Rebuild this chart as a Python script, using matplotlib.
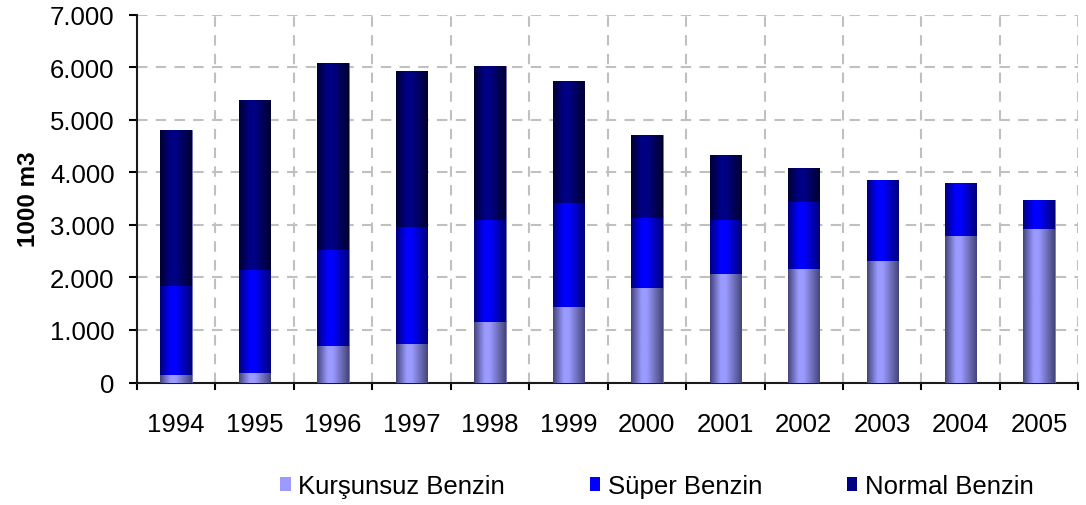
import numpy as np
import matplotlib.pyplot as plt
from matplotlib.colors import LinearSegmentedColormap
from matplotlib.patches import Patch

plt.rcParams['font.family'] = ['Liberation Sans', 'DejaVu Sans']

# Data (1000 m3)
years = ['1994', '1995', '1996', '1997', '1998', '1999',
         '2000', '2001', '2002', '2003', '2004', '2005']
kursunsuz = [150, 190, 690, 740, 1160, 1430, 1800, 2070, 2160, 2310, 2790, 2920]
super_b = [1680, 1960, 1830, 2220, 1930, 1990, 1330, 1020, 1270, 1540, 1010, 550]
normal = [2980, 3220, 3560, 2970, 2940, 2320, 1590, 1240, 650, 0, 0, 0]
labels = ['Kurşunsuz Benzin', 'Süper Benzin', 'Normal Benzin']

# (edge colour, centre colour) for the shaded bars
shades = [('#45457a', '#9a9aff'), ('#00007a', '#0000ff'), ('#000030', '#000085')]

fig = plt.figure(figsize=(10.86, 5.06), dpi=100)
ax = fig.add_axes([0.126, 0.242, 0.867, 0.727])

x = np.arange(len(years))
grad = np.linspace(0, 1, 100).reshape(1, -1)
bottom = np.zeros(len(years))
for vals, lab, (dark, light) in zip([kursunsuz, super_b, normal], labels, shades):
    cmap = LinearSegmentedColormap.from_list(lab, [(0, dark), (0.33, light), (0.5, light), (1, dark)])
    bars = ax.bar(x, vals, 0.4, bottom=bottom, color=light, edgecolor='#7070b0',
                  linewidth=0.6, zorder=3)
    for r in bars:
        if r.get_height() <= 0:
            continue
        im = ax.imshow(grad, extent=(r.get_x(), r.get_x() + r.get_width(),
                                     r.get_y(), r.get_y() + r.get_height()),
                       aspect='auto', cmap=cmap, zorder=3.5, interpolation='bilinear')
        im.set_clip_path(r)
    bottom += np.array(vals)

ax.set_xlim(-0.5, 11.5)
ax.set_ylim(0, 7000)
ax.set_yticks(np.arange(0, 7001, 1000))
ax.set_yticklabels(['0'] + ['{:d}.000'.format(i) for i in range(1, 8)])
ax.set_xticks(x)
ax.set_xticklabels(years)
ax.set_xticks(np.arange(-0.5, 12, 1), minor=True)

ax.tick_params(axis='y', direction='out', length=6, width=1.5, pad=10, labelsize=18.5)
ax.tick_params(axis='x', which='major', length=0, pad=21, labelsize=18.5)
ax.tick_params(axis='x', which='minor', direction='out', length=5, width=1.5)

ax.grid(axis='y', which='major', color='#c0c0c0', linestyle=(0, (5, 4)), linewidth=1.5, zorder=0)
ax.grid(axis='x', which='minor', color='#c0c0c0', linestyle=(0, (5, 4)), linewidth=1.5, zorder=0)
ax.set_axisbelow(True)

for s in ['top', 'right']:
    ax.spines[s].set_visible(False)
for s in ['left', 'bottom']:
    ax.spines[s].set_linewidth(1.5)
    ax.spines[s].set_color('#1a1a1a')

ax.set_ylabel('1000 m3', fontsize=17.5, fontweight='bold', labelpad=7)

handles = [Patch(facecolor=light, edgecolor='none') for dark, light in shades]
fig.legend(handles, labels, loc='center', bbox_to_anchor=(0.605, 0.037), ncol=3,
           frameon=False, fontsize=18.5, handlelength=0.4, handleheight=0.5,
           handletextpad=0.3, columnspacing=3.3)

fig.savefig('out.png', dpi=100)
